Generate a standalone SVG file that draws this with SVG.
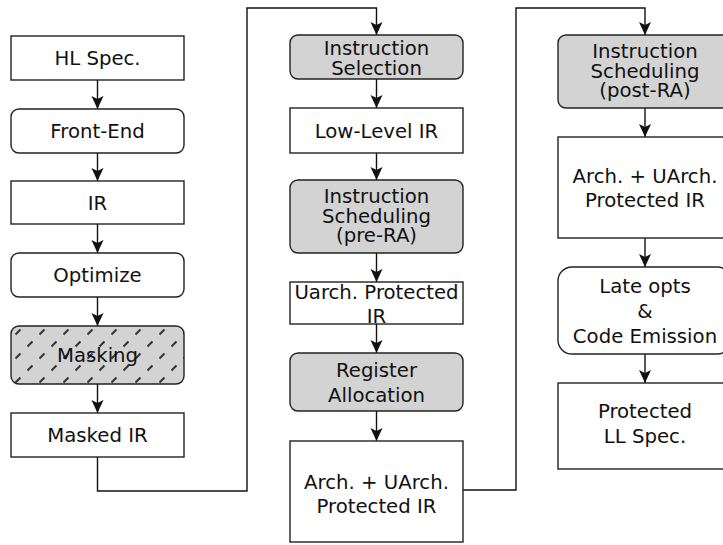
<svg xmlns="http://www.w3.org/2000/svg" width="723" height="545" viewBox="0 0 723 545">
<style>
  .box { fill: #ffffff; stroke: #222222; stroke-width: 1.4; }
  .gray { fill: #d3d3d3; stroke: #222222; stroke-width: 1.4; }
  .hatch { fill: url(#hatch); stroke: #222222; stroke-width: 1.4; }
  .lbl { font-family: "DejaVu Sans", "Liberation Sans", sans-serif; font-size: 19.7px; fill: #111111; text-anchor: middle; }
  .edge { fill: none; stroke: #111111; stroke-width: 1.4; marker-end: url(#arr); }
</style>
<defs>
  <marker id="arr" markerWidth="14" markerHeight="14" viewBox="0 0 14 14" refX="13" refY="7" orient="auto" markerUnits="userSpaceOnUse">
    <path d="M0,1 L13,7 L0,13 L3,7 Z" fill="#111111"/>
  </marker>
  <pattern id="hatch" patternUnits="userSpaceOnUse" width="24" height="24" x="0" y="2">
    <rect width="24" height="24" fill="#d3d3d3"/>
    <path d="M3.5,8.5 L8.5,3.5 M15.5,20.5 L20.5,15.5" stroke="#333333" stroke-width="2"/>
  </pattern>
</defs>

<g id="connectors">
  <path class="edge" d="M97.5,80 V109"/>
  <path class="edge" d="M97.5,153 V181"/>
  <path class="edge" d="M97.5,224 V253"/>
  <path class="edge" d="M97.5,297 V326"/>
  <path class="edge" d="M97.5,384 V413"/>
  <path class="edge" d="M97.5,457 V491 H247 V8 H376.5 V35"/>
  <path class="edge" d="M376.5,79 V108"/>
  <path class="edge" d="M376.5,153 V180"/>
  <path class="edge" d="M376.5,253 V282"/>
  <path class="edge" d="M376.5,324 V353"/>
  <path class="edge" d="M376.5,411 V441"/>
  <path class="edge" d="M463,490 H516 V8 H645 V35"/>
  <path class="edge" d="M645,108 V137"/>
  <path class="edge" d="M645,238 V267"/>
  <path class="edge" d="M645,354 V383"/>
</g>

<g id="hl-spec">
  <rect class="box" x="11" y="36" width="173" height="44"/>
  <text class="lbl" x="97.5" y="65">HL Spec.</text>
</g>
<g id="front-end">
  <rect class="box" x="11" y="109" width="173" height="44" rx="8"/>
  <text class="lbl" x="97.5" y="138">Front-End</text>
</g>
<g id="ir">
  <rect class="box" x="11" y="181" width="173" height="43"/>
  <text class="lbl" x="97.5" y="210">IR</text>
</g>
<g id="optimize">
  <rect class="box" x="11" y="253" width="173" height="44" rx="8"/>
  <text class="lbl" x="97.5" y="282">Optimize</text>
</g>
<g id="masking">
  <rect class="hatch" x="11" y="326" width="173" height="58" rx="8"/>
  <text class="lbl" x="97.5" y="362">Masking</text>
</g>
<g id="masked-ir">
  <rect class="box" x="11" y="413" width="173" height="44"/>
  <text class="lbl" x="97.5" y="442">Masked IR</text>
</g>

<g id="instruction-selection">
  <rect class="gray" x="290" y="35" width="173" height="44" rx="8"/>
  <text class="lbl" x="376.5" y="55">Instruction</text>
  <text class="lbl" x="376.5" y="75">Selection</text>
</g>
<g id="low-level-ir">
  <rect class="box" x="290" y="108" width="173" height="45"/>
  <text class="lbl" x="376.5" y="138">Low-Level IR</text>
</g>
<g id="sched-pre-ra">
  <rect class="gray" x="290" y="180" width="173" height="73" rx="8"/>
  <text class="lbl" x="376.5" y="203">Instruction</text>
  <text class="lbl" x="376.5" y="223">Scheduling</text>
  <text class="lbl" x="376.5" y="242">(pre-RA)</text>
</g>
<g id="uarch-protected-ir">
  <rect class="box" x="290" y="282" width="173" height="42"/>
  <text class="lbl" x="376.5" y="299">Uarch. Protected</text>
  <text class="lbl" x="376.5" y="323">IR</text>
</g>
<g id="register-allocation">
  <rect class="gray" x="290" y="353" width="173" height="58" rx="8"/>
  <text class="lbl" x="376.5" y="377">Register</text>
  <text class="lbl" x="376.5" y="402">Allocation</text>
</g>
<g id="arch-uarch-ir-1">
  <rect class="box" x="290" y="441" width="173" height="101"/>
  <text class="lbl" x="376.5" y="489">Arch. + UArch.</text>
  <text class="lbl" x="376.5" y="513">Protected IR</text>
</g>

<g id="sched-post-ra">
  <rect class="gray" x="558" y="35" width="173" height="73" rx="8"/>
  <text class="lbl" x="645" y="58">Instruction</text>
  <text class="lbl" x="645" y="78">Scheduling</text>
  <text class="lbl" x="645" y="97">(post-RA)</text>
</g>
<g id="arch-uarch-ir-2">
  <rect class="box" x="558" y="137" width="173" height="101"/>
  <text class="lbl" x="645" y="183">Arch. + UArch.</text>
  <text class="lbl" x="645" y="207">Protected IR</text>
</g>
<g id="late-opts">
  <rect class="box" x="558" y="267" width="173" height="87" rx="14"/>
  <text class="lbl" x="645" y="293">Late opts</text>
  <text class="lbl" x="645" y="318">&amp;</text>
  <text class="lbl" x="645" y="343">Code Emission</text>
</g>
<g id="protected-ll-spec">
  <rect class="box" x="558" y="383" width="173" height="86"/>
  <text class="lbl" x="645" y="418">Protected</text>
  <text class="lbl" x="645" y="443">LL Spec.</text>
</g>
</svg>
